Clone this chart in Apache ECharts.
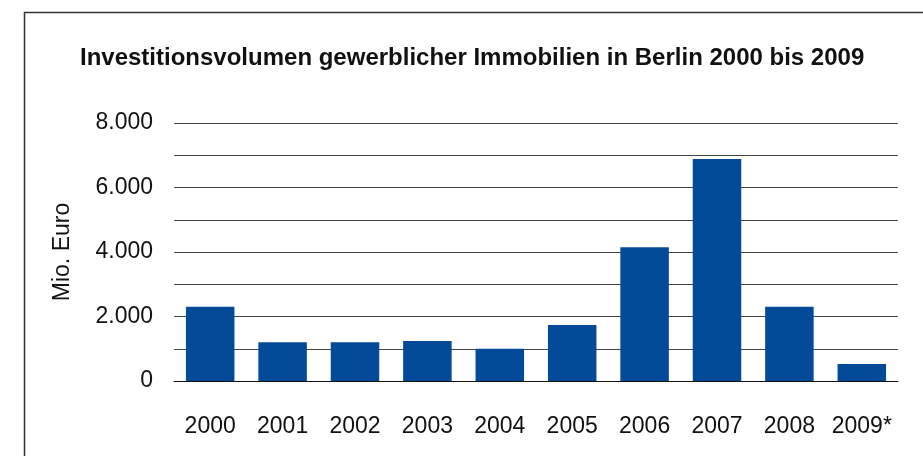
<!DOCTYPE html>
<html lang="de">
<head>
    <meta charset="UTF-8">
    <title>Investitionsvolumen</title>
    <style>
        html, body { margin: 0; padding: 0; background: #fff; }
    </style>
</head>
<body>
<div id="main" style="width: 923px;height:456px;"></div>
<script src="https://cdn.jsdelivr.net/npm/echarts@6/dist/echarts.min.js"></script>
<script>
    // Daten (Mio. Euro)
    var years = ['2000', '2001', '2002', '2003', '2004', '2005', '2006', '2007', '2008', '2009*'];
    var volumes = [2300, 1200, 1200, 1240, 1000, 1740, 4150, 6880, 2300, 530];
    var yTicks = [0, 2000, 4000, 6000, 8000];

    var font = '"Liberation Sans", Arial, Helvetica, sans-serif';

    function formatThousands(v) {
        return String(v).replace(/\B(?=(\d{3})+(?!\d))/g, '.');
    }

    var myChart = echarts.init(document.getElementById('main'));

    var option = {
        animation: false,
        backgroundColor: '#fff',
        title: {
            text: 'Investitionsvolumen gewerblicher Immobilien in Berlin 2000 bis 2009',
            left: 80,
            top: 46,
            padding: 0,
            textStyle: {
                fontFamily: font,
                fontSize: 24,
                fontWeight: 'bold',
                color: '#111'
            }
        },
        // Rahmen links und oben
        graphic: [
            {
                type: 'polyline',
                shape: { points: [[24.5, 460], [24.5, 12.5], [930, 12.5]] },
                style: { stroke: '#333', lineWidth: 1.5, fill: null }
            }
        ],
        grid: {
            left: 174,
            right: 25,
            top: 123,
            bottom: 75
        },
        xAxis: {
            type: 'category',
            data: years,
            axisLine: { show: true, lineStyle: { color: '#111', width: 1 } },
            axisTick: { show: false },
            axisLabel: {
                interval: 0,
                margin: 34,
                fontFamily: font,
                fontSize: 23,
                color: '#111'
            }
        },
        yAxis: {
            type: 'value',
            min: 0,
            max: 8000,
            interval: 1000,
            name: 'Mio. Euro',
            nameLocation: 'middle',
            nameGap: 100,
            nameTextStyle: {
                fontFamily: font,
                fontSize: 23,
                color: '#111'
            },
            axisLine: { show: false },
            axisTick: { show: false },
            splitLine: { lineStyle: { color: '#444', width: 1 } },
            axisLabel: {
                margin: 21,
                fontFamily: font,
                fontSize: 23,
                color: '#111',
                formatter: function (v) {
                    return yTicks.indexOf(v) >= 0 ? formatThousands(v) : '';
                }
            }
        },
        series: [
            {
                name: 'Mio. Euro',
                type: 'bar',
                data: volumes,
                barCategoryGap: '33%',
                itemStyle: { color: '#034b98' }
            }
        ]
    };
    myChart.setOption(option);
</script>
</body>
</html>
